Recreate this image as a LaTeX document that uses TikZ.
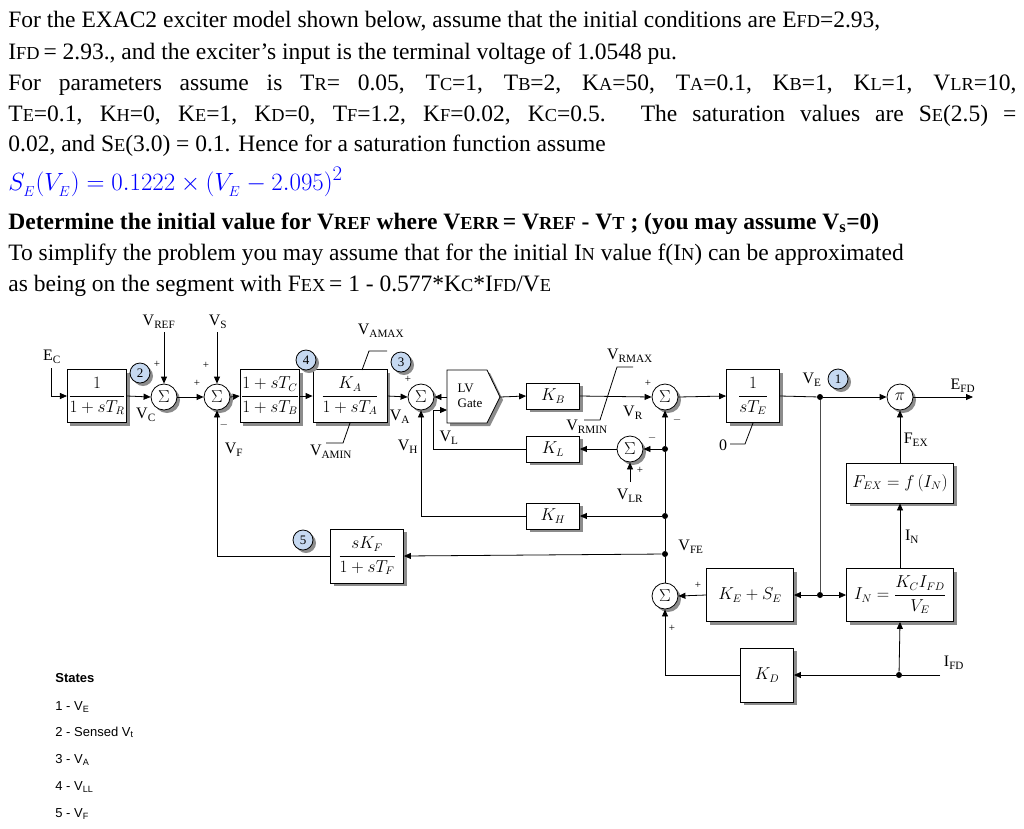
\documentclass[tikz,border=0pt]{standalone}
\usepackage{amsmath}
\usepackage{fontspec}
\setmainfont{Liberation Serif}
\newfontfamily\sansf{Liberation Sans}
\usetikzlibrary{shadows,arrows.meta}
\newcommand\sm[1]{\scalebox{0.78}{#1}}
\definecolor{numblue}{HTML}{C6D9F1}
\begin{document}
\begin{tikzpicture}[x=1pt,y=-1pt,
  shd/.style={drop shadow={shadow xshift=3pt,shadow yshift=-3pt,fill=black!45,opacity=1}},
  blk/.style={draw,fill=white,shd,inner sep=1pt,font=\fontsize{16}{18}\selectfont},
  sum/.style={draw,fill=white,circle,minimum size=26pt,inner sep=0pt,shd,font=\fontsize{17}{17}\selectfont},
  num/.style={draw,fill=numblue,circle,minimum size=20pt,inner sep=0pt,shd,font=\fontsize{13}{13}\selectfont},
  dot/.style={circle,fill,inner sep=0pt,minimum size=6pt},
  lab/.style={font=\fontsize{16}{18}\selectfont,inner sep=0pt},
  sg/.style={font=\fontsize{11}{11}\selectfont,inner sep=0pt},
  ar/.style={-{Triangle[length=7pt,width=6pt]}},
  txt/.style={anchor=base west,inner sep=0pt,font=\fontsize{23.5}{26}\selectfont},
  every path/.style={line width=0.8pt}]
\useasboundingbox (0,0) rectangle (1024,828);
% ---------- text ----------
\node[txt] (l1) at (8,27) {For the EXAC2 exciter model shown below, assume that the initial conditions are E\sm{FD}=2.93,};
\node[txt] (l2) at (8,59) {I\sm{FD}\,= 2.93., and the exciter’s input is the terminal voltage of 1.0548 pu.};
\node[txt] (l3) at (8,90) {\makebox[1008pt][s]{For parameters assume is T\sm{R}= 0.05, T\sm{C}=1, T\sm{B}=2, K\sm{A}=50, T\sm{A}=0.1, K\sm{B}=1, K\sm{L}=1, V\sm{LR}=10,}};
\node[txt] (l4) at (8,121) {\makebox[1008pt][s]{T\sm{E}=0.1, K\sm{H}=0, K\sm{E}=1, K\sm{D}=0, T\sm{F}=1.2, K\sm{F}=0.02, K\sm{C}=0.5. The saturation values are S\sm{E}(2.5) =}};
\node[txt] (l5) at (8,151) {0.02, and S\sm{E}(3.0) = 0.1. Hence for a saturation function assume};
\node[txt,text=blue,font=\fontsize{29}{30}\selectfont] (l6) at (8,190) {$S_{_E}(V_{_E})=0.1222\times(V_{_E}-2.095)^2$};
\node[txt,font=\fontsize{23.5}{26}\selectfont\bfseries] (l7) at (8,229) {Determine the initial value for V\sm{REF} where V\sm{ERR}\,= V\sm{REF} - V\sm{T} ; (you may assume V\textsubscript{s}=0)};
\node[txt] (l8) at (8,260) {To simplify the problem you may assume that for the initial I\sm{N} value f(I\sm{N}) can be approximated};
\node[txt] (l9) at (8,291) {as being on the segment with F\sm{EX}\,= 1 - 0.577*K\sm{C}*I\sm{FD}/V\sm{E}};
% ---------- blocks ----------
\node[blk,minimum width=53pt,minimum height=53pt] (tr) at (97,396) {$\dfrac{1}{1+sT_R}$};
\node[sum] (s1) at (164,397) {$\Sigma$};
\node[sum] (s2) at (217,397) {$\Sigma$};
\node[blk,minimum width=54pt,minimum height=53pt] (tc) at (270,396) {$\dfrac{1+sT_C}{1+sT_B}$};
\node[blk,minimum width=74pt,minimum height=53pt] (ka) at (350,396) {$\dfrac{K_A}{1+sT_A}$};
\node[sum] (s3) at (421,397) {$\Sigma$};
\path[draw,fill=white,shd] (447,370) -- (487,370) -- (500,397) -- (487,423) -- (447,423) -- cycle;
\node[font=\fontsize{13}{15}\selectfont,align=left] (gate) at (470,396) {LV\\Gate};
\coordinate (gw) at (447,397); \coordinate (ge) at (500,397); \coordinate (gwl) at (447,410);
\node[blk,minimum width=53pt,minimum height=26pt] (kb) at (553,396) {$K_B$};
\node[blk,minimum width=53pt,minimum height=26pt] (kl) at (553,449) {$K_L$};
\node[blk,minimum width=53pt,minimum height=26pt] (kh) at (553,516) {$K_H$};
\node[blk,minimum width=73pt,minimum height=54pt] (kf) at (367,556) {$\dfrac{sK_F}{1+sT_F}$};
\node[sum] (s4) at (665,397) {$\Sigma$};
\node[sum] (s6) at (630,449) {$\Sigma$};
\node[blk,minimum width=53pt,minimum height=53pt] (te) at (753,396) {$\dfrac{1}{sT_E}$};
\node[sum] (pi) at (900,397) {$\pi$};
\node[blk,minimum width=107pt,minimum height=40pt] (fex) at (900,483) {$F_{EX}=f\left(I_N\right)$};
\node[blk,minimum width=107pt,minimum height=53pt] (in) at (900,595) {$I_N=\dfrac{K_C I_{FD}}{V_E}$};
\node[blk,minimum width=87pt,minimum height=53pt] (kes) at (750,595) {$K_E+S_E$};
\node[sum] (s5) at (665,596) {$\Sigma$};
\node[blk,minimum width=53pt,minimum height=54pt] (kd) at (767,675) {$K_D$};
% dots
\node[dot] (ve) at (820,397) {};
\node[dot] (vb) at (820,595) {};
\node[dot] (d1) at (665,449) {};
\node[dot] (d2) at (665,516) {};
\node[dot] (d3) at (665,554) {};
\node[dot] (id) at (899,675) {};
% numbered circles
\node[num] (n2) at (140,373) {2};
\node[num] (n4) at (306,360) {4};
\node[num] (n3) at (401,362) {3};
\node[num] (n5) at (303,540) {5};
\node[num] (n1) at (838,379) {1};
% free ends
\coordinate (ec) at (51,368);
\coordinate (vref) at (164,332);
\coordinate (vs) at (217,332);
\coordinate (vlc) at (433,410);
\coordinate (vlr) at (630,482);
\coordinate (efd) at (973,397);
\coordinate (ifd) at (940,675);
% ---------- connectors ----------
\draw[ar] (ec) |- (tr.west);
\draw[ar] (tr.east) -- (s1.west);
\draw[ar] (vref) -- (s1.north);
\draw[ar] (s1.east) -- (s2.west);
\draw[ar] (vs) -- (s2.north);
\draw[ar] (s2.east) -- (tc.west);
\draw[ar] (tc.east) -- (ka.west);
\draw[ar] (ka.east) -- (s3.west);
\draw[ar] (gw) -- (s3.east);
\draw[ar] (kl.west) -| (vlc) -- (gwl);
\draw[ar] (ge) -- (kb.west);
\draw[ar] (kb.east) -- (s4.west);
\draw[ar] (s4.east) -- (te.west);
\draw (te.east) -- (ve);
\draw[ar] (ve) -- (pi.west);
\draw[ar] (pi.east) -- (efd);
\draw[black!70] (ve) -- (vb);
\draw[ar] (vb) -- (kes.east);
\draw[ar] (vb) -- (in.west);
\draw[ar] (kes.west) -- (s5.east);
\draw (s5.north) -- (d3) -- (d2) -- (d1);
\draw[ar] (d1) -- (s4.south);
\draw[ar] (d1) -- (s6.east);
\draw[ar] (s6.west) -- (kl.east);
\draw[ar] (vlr) -- (s6.south);
\draw[ar] (d2) -- (kh.east);
\draw[ar] (kh.west) -| (s3.south);
\draw[ar] (d3) -- (kf.east);
\draw[ar] (kf.west) -| (s2.south);
\draw (ifd) -- (id);
\draw[ar] (id) -- (kd.east);
\draw[ar] (id) -- (in.south);
\draw[ar] (kd.west) -| (s5.south);
\draw[ar] (in.north) -- (fex.south);
\draw[ar] (fex.north) -- (pi.south);
% limiters
\draw (362,370) -- (369,351) -- (387,351);
\draw (350,423) -- (343,443) -- (326,443);
\draw (633,367) -- (617,367) -- (600,420) -- (584,420);
\draw (753,423) -- (745,444) -- (730,444);
% ---------- labels ----------
\node[lab] at (52,357) {E\textsubscript{C}};
\node[lab] at (159,322) {V\textsubscript{REF}};
\node[lab] at (218,322) {V\textsubscript{S}};
\node[lab] at (146,415) {V\textsubscript{C}};
\node[lab] at (234,450) {V\textsubscript{F}};
\node[lab] at (381,331) {V\textsubscript{AMAX}};
\node[lab] at (331,452) {V\textsubscript{AMIN}};
\node[lab] at (400,417) {V\textsubscript{A}};
\node[lab] at (408,447) {V\textsubscript{H}};
\node[lab] at (449,438) {V\textsubscript{L}};
\node[lab] at (630,356) {V\textsubscript{RMAX}};
\node[lab] at (587,427) {V\textsubscript{RMIN}};
\node[lab] at (633,413) {V\textsubscript{R}};
\node[lab] at (630,496) {V\textsubscript{LR}};
\node[lab] at (691,547) {V\textsubscript{FE}};
\node[lab] at (812,380) {V\textsubscript{E}};
\node[lab] at (963,386) {E\textsubscript{FD}};
\node[lab] at (916,440) {F\textsubscript{EX}};
\node[lab] at (912,537) {I\textsubscript{N}};
\node[lab] at (954,663) {I\textsubscript{FD}};
\node[lab] at (723,445) {0};
% signs
\node[sg] at (157,364) {+};
\node[sg] at (206,365) {+};
\node[sg] at (197,383) {+};
\node[sg] at (224,425) {$-$};
\node[sg] at (408,379) {+};
\node[sg] at (648,383) {+};
\node[sg] at (677,420) {$-$};
\node[sg] at (652,438) {$-$};
\node[sg] at (640,470) {+};
\node[sg] at (698,585) {+};
\node[sg] at (672,628) {+};
% ---------- states ----------
\begin{scope}[every node/.style={anchor=base west,inner sep=0pt,font=\sansf\fontsize{13}{15}\selectfont}]
\node[font=\sansf\bfseries\fontsize{13}{15}\selectfont] (st) at (55,682) {States};
\node (st1) at (55,710) {1 - V\textsubscript{E}};
\node (st2) at (55,736) {2 - Sensed V\textsubscript{t}};
\node (st3) at (55,763) {3 - V\textsubscript{A}};
\node (st4) at (55,790) {4 - V\textsubscript{LL}};
\node (st5) at (55,817) {5 - V\textsubscript{F}};
\end{scope}
\end{tikzpicture}
\end{document}
